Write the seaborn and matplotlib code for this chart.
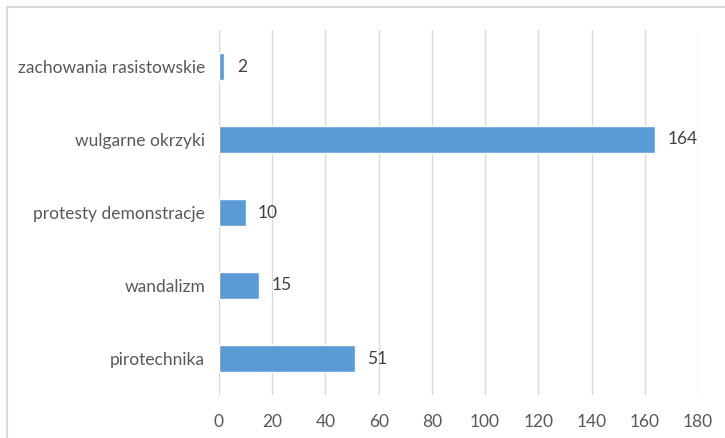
import matplotlib
matplotlib.use("Agg")
import matplotlib.pyplot as plt
import seaborn as sns
import pandas as pd
from matplotlib.patches import Rectangle

categories = ["zachowania rasistowskie", "wulgarne okrzyki", "protesty demonstracje", "wandalizm", "pirotechnika"]
values = [2, 164, 10, 15, 51]
xticks = [0, 20, 40, 60, 80, 100, 120, 140, 160, 180]

sns.set_theme(style="white")
plt.rcParams['font.family'] = ['Lato', 'DejaVu Sans']

df = pd.DataFrame({"cat": categories, "val": values})

fig = plt.figure(figsize=(7.25, 4.38), dpi=100)
ax = fig.add_axes([219/725, 1 - 395/438, (698-219)/725, (395-30)/438])

sns.barplot(data=df, x="val", y="cat", orient="h", color="#5B9BD5", width=0.37,
            saturation=1, ax=ax, zorder=3)

ax.set_xlim(0, 180)
ax.set_xticks(xticks)
ax.set_xticklabels([str(t) for t in xticks])
ax.set_ylim(4.5, -0.5)
ax.grid(axis="x", color="#d9d9d9", linewidth=1, zorder=0)
ax.set_axisbelow(True)
for s in ax.spines.values():
    s.set_visible(False)
ax.set_xlabel("")
ax.set_ylabel("")
ax.tick_params(axis="both", length=0, labelsize=12.5, labelcolor="#595959")
ax.tick_params(axis="x", pad=14)
ax.tick_params(axis="y", pad=10)

for c in ax.containers:
    ax.bar_label(c, labels=[str(v) for v in values], padding=9, fontsize=12.5, color="#404040")

fig.patches.append(Rectangle((7/725, -0.05), 1.0, 1.05 - 7/438, transform=fig.transFigure,
                             fill=False, edgecolor="#d9d9d9", linewidth=1.5))

fig.savefig("out.png", dpi=100)
